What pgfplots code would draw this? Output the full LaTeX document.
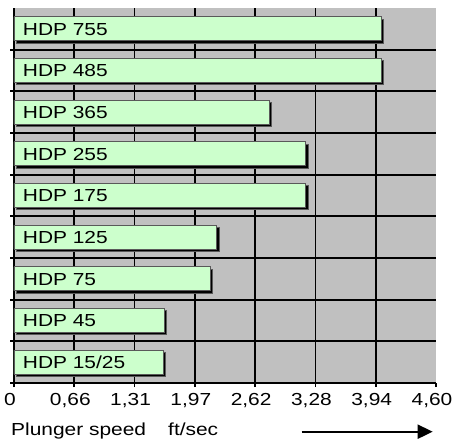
\documentclass[border=0pt]{standalone}
\usepackage{fontspec}
\setmainfont{Liberation Sans}
\usepackage{graphicx}
\usepackage{pgfplots}
\pgfplotsset{compat=1.18}
\usetikzlibrary{arrows.meta}
\definecolor{bgray}{HTML}{C0C0C0}
\definecolor{lgreen}{HTML}{CCFFCC}
\newcommand\sx[1]{\scalebox{1.2}[1]{#1}}
\newcommand\fs{\fontsize{17.5}{20}\selectfont}
\begin{document}
\begin{tikzpicture}
\path (-14bp,-60bp) rectangle (441bp,383bp);
\begin{axis}[at={(0,0)}, anchor=south west, scale only axis,
  width=422bp, height=375bp,
  xmin=0, xmax=4.6, ymin=-0.5, ymax=8.5,
  axis background/.style={fill=bgray},
  axis x line*=bottom, axis y line*=left,
  axis line style={-, black, line width=1.8bp},
  xtick={0,0.657142857,1.314285714,1.971428571,2.628571429,3.285714286,3.942857143,4.6},
  xticklabels={{\sx{0}},{\sx{0,66}},{\sx{1,31}},{\sx{1,97}},{\sx{2,62}},{\sx{3,28}},{\sx{3,94}},{\sx{4,60}}},
  extra x ticks={0,0.657142857,1.314285714,1.971428571,2.628571429,3.285714286,3.942857143},
  extra x tick labels={},
  extra x tick style={grid=major, major tick length=0pt},
  ytick={-0.5,0.5,1.5,2.5,3.5,4.5,5.5,6.5,7.5},
  yticklabels={},
  ymajorgrids,
  grid style={black, line width=1.8bp},
  tick align=outside, major tick length=4bp,
  tick style={black, line width=1.8bp},
  xticklabel style={font=\fs, anchor=base, yshift=-18bp, xshift=-4bp, inner sep=0pt},
]
\addplot[xbar, bar width=24bp, fill=lgreen, draw=black!65, line width=0.7bp,
  preaction={fill=black, transform canvas={shift={(2.2bp,-2.2bp)}}}]
  coordinates {(1.63,0) (1.64,1) (2.14,2) (2.21,3) (3.18,4) (3.18,5) (2.78,6) (4.0,7) (4.0,8)};
\addplot[only marks, mark=none, nodes near coords={\sx{\pgfplotspointmeta}},
  point meta=explicit symbolic,
  nodes near coords style={anchor=base west, inner sep=0pt, xshift=8.7bp, yshift=-6.2bp, font=\fs, text=black}]
  table[col sep=comma, x=x, y=y, meta=l] {
x,y,l
0,0,HDP 15/25
0,1,HDP 45
0,2,HDP 75
0,3,HDP 125
0,4,HDP 175
0,5,HDP 255
0,6,HDP 365
0,7,HDP 485
0,8,HDP 755
};
\end{axis}
\node[anchor=base west, inner sep=0pt, font=\fs] at (-3bp,-52bp) {\sx{Plunger speed}};
\node[anchor=base west, inner sep=0pt, font=\fs] at (154bp,-52bp) {\sx{ft/sec}};
\draw[line width=2bp, -{Triangle[length=15bp,width=14bp]}] (287.7bp,-48.7bp) -- (418.7bp,-48.7bp);
\end{tikzpicture}
\end{document}
